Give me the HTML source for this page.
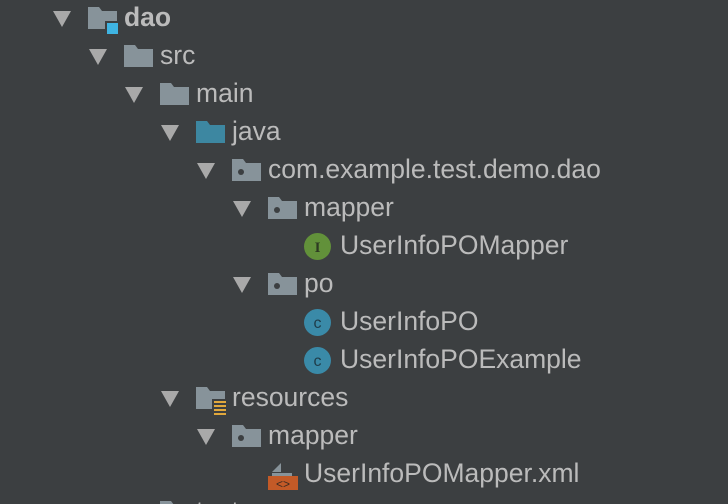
<!DOCTYPE html>
<html><head><style>
html,body{margin:0;padding:0;overflow:hidden;height:504px}
body{width:728px;height:504px;background:#3c3f41;position:relative;overflow:hidden;font-family:"Liberation Sans",sans-serif;color:#bbbbbb}
.r{position:absolute;height:38px;left:0;width:728px}
.t{position:absolute;top:12px;width:0;height:0;border-left:9px solid transparent;border-right:9px solid transparent;border-top:16px solid #a9a9a9}
.tr{position:absolute;top:11px;width:0;height:0;border-top:9px solid transparent;border-bottom:9px solid transparent;border-left:16px solid #a9a9a9}
.l{position:absolute;top:3px;font-size:26.5px;line-height:30px;white-space:nowrap}
.ic{position:absolute;top:8px}
</style></head><body>
<svg width="0" height="0" style="position:absolute">
<defs>
<path id="fold" d="M0 0H11L14 4H29V22H0Z"/>
</defs>
</svg>

<div class="r" style="top:-1px"><div class="t" style="left:53px"></div>
<svg class="ic" style="left:88px" width="32" height="30"><use href="#fold" fill="#87939a"/><rect x="17" y="14" width="14" height="14" fill="#3c3f41"/><rect x="19" y="16" width="11" height="11" fill="#3fb4e2"/></svg>
<div class="l" style="left:124px;font-weight:bold">dao</div></div>

<div class="r" style="top:37px"><div class="t" style="left:89px"></div>
<svg class="ic" style="left:124px" width="30" height="24"><use href="#fold" fill="#87939a"/></svg>
<div class="l" style="left:160px">src</div></div>

<div class="r" style="top:75px"><div class="t" style="left:125px"></div>
<svg class="ic" style="left:160px" width="30" height="24"><use href="#fold" fill="#87939a"/></svg>
<div class="l" style="left:196px">main</div></div>

<div class="r" style="top:113px"><div class="t" style="left:161px"></div>
<svg class="ic" style="left:196px" width="30" height="24"><use href="#fold" fill="#3d87a1"/></svg>
<div class="l" style="left:232px">java</div></div>

<div class="r" style="top:151px"><div class="t" style="left:197px"></div>
<svg class="ic" style="left:232px" width="30" height="24"><use href="#fold" fill="#87939a"/><circle cx="9" cy="13" r="3" fill="#3c3f41"/></svg>
<div class="l" style="left:268px">com.example.test.demo.dao</div></div>

<div class="r" style="top:189px"><div class="t" style="left:233px"></div>
<svg class="ic" style="left:268px" width="30" height="24"><use href="#fold" fill="#87939a"/><circle cx="9" cy="13" r="3" fill="#3c3f41"/></svg>
<div class="l" style="left:304px">mapper</div></div>

<div class="r" style="top:227px">
<svg class="ic" style="left:304px;top:6px" width="28" height="28"><circle cx="13.5" cy="13.5" r="13.5" fill="#62913a"/><text x="13.5" y="19" font-family="Liberation Serif,serif" font-size="15" font-weight="bold" text-anchor="middle" fill="#2d3a22">I</text></svg>
<div class="l" style="left:340px">UserInfoPOMapper</div></div>

<div class="r" style="top:265px"><div class="t" style="left:233px"></div>
<svg class="ic" style="left:268px" width="30" height="24"><use href="#fold" fill="#87939a"/><circle cx="9" cy="13" r="3" fill="#3c3f41"/></svg>
<div class="l" style="left:304px">po</div></div>

<div class="r" style="top:303px">
<svg class="ic" style="left:304px;top:6px" width="28" height="28"><circle cx="13.5" cy="13.5" r="13.5" fill="#3a8aa8"/><text x="13.5" y="19" font-family="Liberation Sans,sans-serif" font-size="16" text-anchor="middle" fill="#1f3d4a">c</text></svg>
<div class="l" style="left:340px">UserInfoPO</div></div>

<div class="r" style="top:341px">
<svg class="ic" style="left:304px;top:6px" width="28" height="28"><circle cx="13.5" cy="13.5" r="13.5" fill="#3a8aa8"/><text x="13.5" y="19" font-family="Liberation Sans,sans-serif" font-size="16" text-anchor="middle" fill="#1f3d4a">c</text></svg>
<div class="l" style="left:340px">UserInfoPOExample</div></div>

<div class="r" style="top:379px"><div class="t" style="left:161px"></div>
<svg class="ic" style="left:196px" width="32" height="30"><use href="#fold" fill="#87939a"/><rect x="16" y="12" width="16" height="18" fill="#3c3f41"/><g fill="#e1a83c"><rect x="18" y="14" width="12" height="2"/><rect x="18" y="18" width="12" height="2"/><rect x="18" y="22" width="12" height="2"/><rect x="18" y="26" width="12" height="2"/></g></svg>
<div class="l" style="left:232px">resources</div></div>

<div class="r" style="top:417px"><div class="t" style="left:197px"></div>
<svg class="ic" style="left:232px" width="30" height="24"><use href="#fold" fill="#87939a"/><circle cx="9" cy="13" r="3" fill="#3c3f41"/></svg>
<div class="l" style="left:268px">mapper</div></div>

<div class="r" style="top:455px">
<svg class="ic" style="left:268px;top:4px" width="32" height="32"><path d="M4 13L13 4V13Z" fill="#87939a"/><rect x="4" y="14" width="20" height="4" fill="#87939a"/><rect x="0" y="17" width="30" height="14" fill="#c35a27"/><text x="15" y="29" font-family="Liberation Sans,sans-serif" font-size="12" text-anchor="middle" fill="#3c2a20">&lt;&gt;</text></svg>
<div class="l" style="left:304px">UserInfoPOMapper.xml</div></div>

<div class="r" style="top:493px"><div class="tr" style="left:118px"></div>
<svg class="ic" style="left:160px" width="30" height="24"><use href="#fold" fill="#87939a"/></svg>
<div class="l" style="left:196px">test</div></div>
</body></html>
